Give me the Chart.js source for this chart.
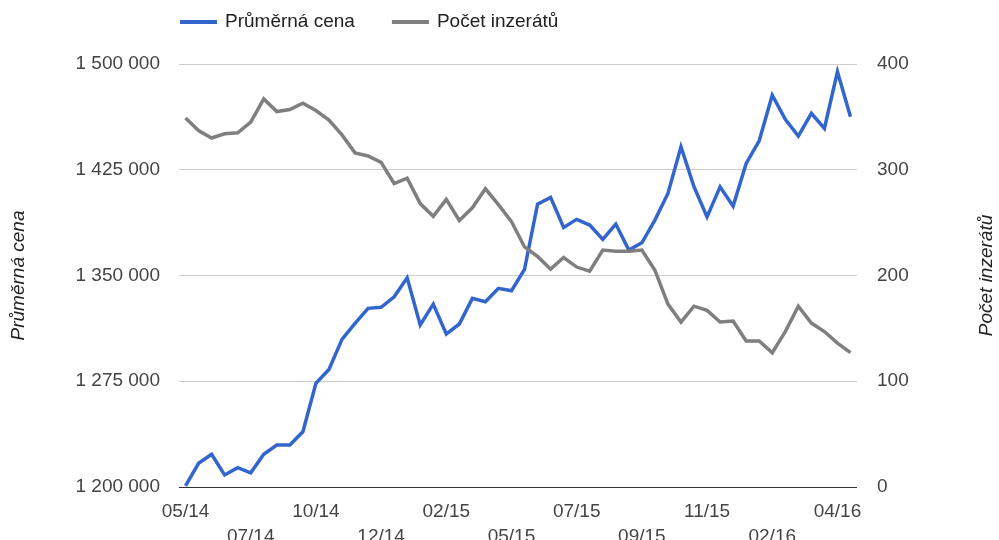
<!DOCTYPE html>
<html><head><meta charset="utf-8">
<script src="https://cdn.jsdelivr.net/npm/chart.js@4"></script>
<style>html,body{margin:0;padding:0;background:#fff}</style>
</head><body>
<canvas id="c" width="999" height="540" style="width:999px;height:540px;display:block"></canvas>
<script>
const labels = ['05/14','05/14','06/14','06/14','07/14','07/14','08/14','08/14','09/14','09/14',
  '10/14','10/14','11/14','11/14','11/14','12/14','12/14','01/15','01/15','02/15',
  '02/15','03/15','03/15','04/15','04/15','05/15','05/15','05/15','06/15','06/15',
  '07/15','07/15','08/15','08/15','09/15','09/15','10/15','10/15','10/15','11/15',
  '11/15','12/15','12/15','01/16','01/16','02/16','02/16','03/16','03/16','04/16',
  '04/16','04/16'];
const avgPrice = [1200800,1216800,1223200,1208500,1213700,1210100,1223200,1229800,1229800,1239200,
  1273500,1283400,1304700,1316000,1326700,1327400,1334900,1348400,1314900,1329700,
  1308500,1315600,1333800,1331400,1340900,1339200,1354300,1400600,1405400,1384100,
  1389800,1385800,1375600,1386500,1368000,1373200,1389300,1408200,1441300,1412900,
  1391600,1412900,1399200,1429500,1445500,1477900,1460700,1448900,1465000,1454300,
  1494500,1462600];
const listingCount = [349,337,330,334,335,345,367,355,357,363,
  356,347,333,316,313,307,287,292,268,256,
  272,252,264,282,267,251,227,218,206,217,
  208,204,224,223,223,224,205,173,156,171,
  167,156,157,138,138,127,147,171,155,147,
  136,127];
const priceTicks = [1200000,1275000,1350000,1425000,1500000];
const countTicks = [0,100,200,300,400];
const seriesNames = ['Průměrná cena','Počet inzerátů'];
const seriesColors = ['#3366cc','#7f7f7f'];

const FONT = '"Liberation Sans", Arial, sans-serif';
const fmt = v => String(v).replace(/\B(?=(\d{3})+(?!\d))/g, ' ');

const customLegend = {
  id: 'customLegend',
  afterDraw(chart) {
    const ctx = chart.ctx;
    ctx.save();
    ctx.font = '19px ' + FONT;
    ctx.textBaseline = 'middle';
    ctx.textAlign = 'left';
    let x = 180; const y = 22;
    chart.data.datasets.forEach(ds => {
      ctx.strokeStyle = ds.borderColor;
      ctx.lineWidth = 4;
      ctx.beginPath(); ctx.moveTo(x, y); ctx.lineTo(x + 37, y); ctx.stroke();
      ctx.fillStyle = '#222';
      ctx.fillText(ds.label, x + 45, y);
      x += 45 + ctx.measureText(ds.label).width + 37;
    });
    ctx.restore();
  }
};
const axisTitles = {
  id: 'axisTitles',
  afterDraw(chart) {
    const ctx = chart.ctx;
    ctx.save();
    ctx.font = 'italic 19px ' + FONT;
    ctx.fillStyle = '#222';
    ctx.textAlign = 'center';
    ctx.textBaseline = 'middle';
    [[19, seriesNames[0]], [987, seriesNames[1]]].forEach(([x, t]) => {
      ctx.save();
      ctx.translate(x, (chart.chartArea.top + chart.chartArea.bottom) / 2);
      ctx.rotate(-Math.PI / 2);
      ctx.fillText(t, 0, 0);
      ctx.restore();
    });
    ctx.restore();
  }
};

new Chart(document.getElementById('c'), {
  type: 'line',
  data: {
    labels: labels,
    datasets: [
      { label: seriesNames[0], data: avgPrice, yAxisID: 'yL', borderColor: seriesColors[0],
        backgroundColor: seriesColors[0], borderWidth: 3.5, pointRadius: 0, tension: 0, order: 1 },
      { label: seriesNames[1], data: listingCount, yAxisID: 'yR', borderColor: seriesColors[1],
        backgroundColor: seriesColors[1], borderWidth: 3.5, pointRadius: 0, tension: 0, order: 0 }
    ]
  },
  options: {
    responsive: false,
    animation: false,
    devicePixelRatio: 1,
    layout: { padding: { top: 64, bottom: 0, left: 0, right: 0 } },
    plugins: { legend: { display: false }, tooltip: { enabled: false } },
    scales: {
      x: {
        offset: true,
        grid: { display: false, drawTicks: false },
        border: { display: false },
        ticks: {
          autoSkip: false, maxRotation: 0, minRotation: 0, padding: 12,
          color: '#444', font: { family: FONT, size: 19, lineHeight: 1.32 },
          callback: (v, i) => i % 10 === 0 ? [labels[i]] : (i % 10 === 5 ? ['', labels[i]] : '')
        },
        afterFit: s => { s.height = 53; }
      },
      yL: {
        position: 'left', min: priceTicks[0], max: priceTicks[priceTicks.length - 1],
        afterBuildTicks: s => { s.ticks = priceTicks.map(v => ({ value: v })); },
        grid: { color: c => c.tick && c.tick.value === priceTicks[0] ? '#333' : '#cccccc', lineWidth: 1, drawTicks: false },
        border: { display: false },
        ticks: { padding: 19, color: '#444', font: { family: FONT, size: 19 }, callback: v => fmt(v) },
        afterFit: s => { s.width = 179; }
      },
      yR: {
        position: 'right', min: countTicks[0], max: countTicks[countTicks.length - 1],
        afterBuildTicks: s => { s.ticks = countTicks.map(v => ({ value: v })); },
        grid: { display: false, drawTicks: false },
        border: { display: false },
        ticks: { padding: 20, color: '#444', font: { family: FONT, size: 19 } },
        afterFit: s => { s.width = 142; }
      }
    }
  },
  plugins: [customLegend, axisTitles]
});
</script>
</body></html>
